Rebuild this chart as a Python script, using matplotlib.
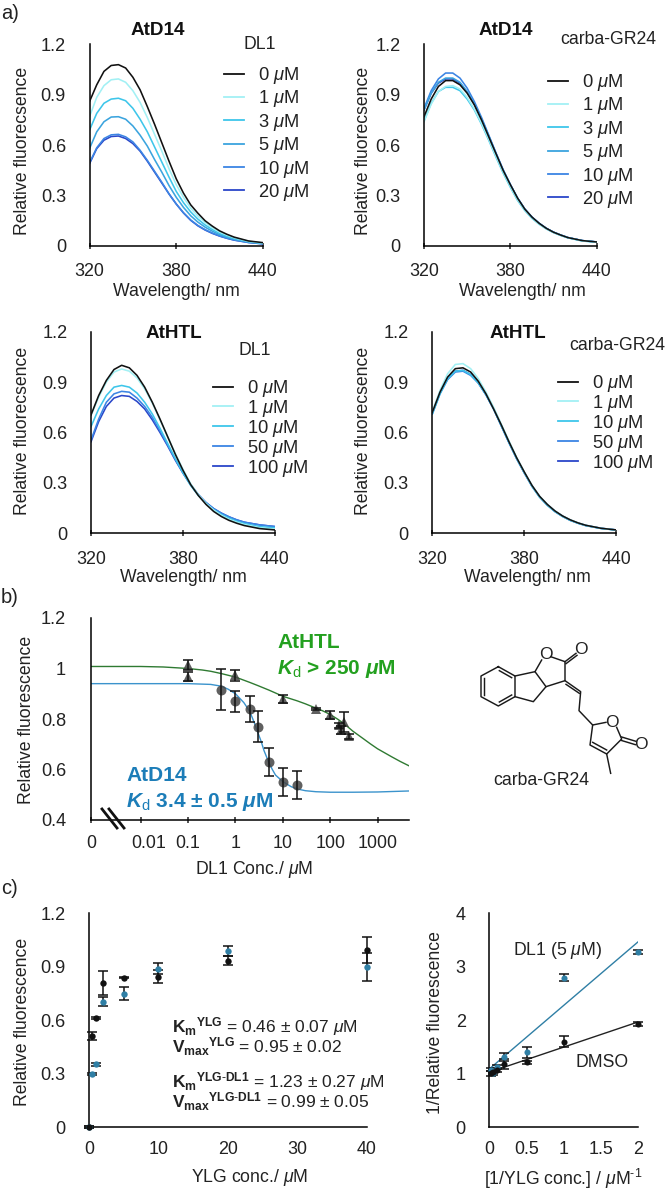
import matplotlib
matplotlib.use("Agg")
import matplotlib.pyplot as plt
from matplotlib.transforms import ScaledTranslation

plt.rcParams['font.family'] = ['Liberation Sans', 'DejaVu Sans']
plt.rcParams['mathtext.fontset'] = 'custom'
plt.rcParams['mathtext.rm'] = 'Liberation Sans'
plt.rcParams['mathtext.it'] = 'Liberation Sans:italic'
plt.rcParams['mathtext.bf'] = 'Liberation Sans:bold'
plt.rcParams['mathtext.bfit'] = 'Liberation Sans:italic:bold'

W, H = 666, 1195
FS = 12.7
MU = r"$\mu$M"

# spectra
wl = [320, 325, 330, 335, 340, 345, 350, 355, 360, 365, 370, 375, 380, 385, 390, 395, 400, 405, 410, 415, 420, 430, 440]

d14_dl1 = {
    "0": [.86, .96, 1.04, 1.075, 1.08, 1.06, 1.005, .93, .83, .725, .615, .505, .40, .315, .245, .195, .15, .118, .09, .07, .053, .03, .02],
    "1": [.77, .885, .955, .99, .995, .975, .925, .855, .765, .665, .565, .46, .365, .29, .225, .178, .14, .108, .083, .065, .05, .028, .018],
    "3": [.69, .79, .85, .875, .88, .865, .82, .755, .68, .59, .50, .41, .325, .258, .203, .16, .125, .098, .075, .058, .045, .026, .016],
    "5": [.58, .68, .74, .768, .77, .755, .715, .66, .595, .515, .44, .36, .29, .23, .18, .142, .112, .088, .068, .053, .041, .024, .015],
    "10": [.495, .585, .64, .662, .665, .65, .62, .57, .51, .445, .38, .31, .25, .198, .155, .122, .097, .077, .06, .047, .036, .021, .013],
    "20": [.49, .58, .63, .652, .655, .64, .61, .565, .505, .44, .375, .31, .25, .197, .153, .12, .095, .075, .059, .046, .035, .021, .013],
}
d14_gr24 = {
    "0": [.77, .875, .95, .985, .985, .96, .91, .84, .75, .65, .55, .45, .365, .285, .22, .172, .135, .105, .082, .065, .05, .032, .024],
    "1": [.74, .845, .92, .95, .955, .935, .885, .815, .73, .635, .535, .44, .355, .275, .215, .167, .13, .102, .08, .063, .049, .03, .023],
    "3": [.745, .85, .92, .945, .945, .925, .875, .81, .725, .63, .53, .435, .35, .272, .212, .165, .13, .102, .08, .063, .049, .03, .023],
    "5": [.81, .91, .975, 1.0, 1.0, .975, .92, .845, .755, .655, .55, .45, .365, .285, .22, .172, .135, .105, .082, .065, .05, .032, .024],
    "10": [.82, .925, .995, 1.03, 1.03, 1.0, .94, .86, .765, .66, .555, .455, .365, .285, .22, .172, .135, .105, .082, .065, .05, .032, .024],
    "20": [.81, .91, .97, .995, .995, .97, .915, .845, .755, .655, .55, .45, .365, .285, .22, .172, .135, .105, .082, .065, .05, .032, .024],
}
htl_dl1 = {
    "0": [.705, .82, .91, .975, 1.0, .985, .94, .87, .78, .68, .575, .47, .375, .29, .225, .172, .13, .10, .077, .06, .046, .028, .02],
    "1": [.70, .81, .90, .96, .978, .965, .925, .86, .775, .675, .575, .475, .38, .295, .23, .178, .138, .107, .083, .066, .052, .033, .025],
    "10": [.635, .74, .82, .87, .88, .87, .835, .78, .71, .625, .535, .445, .36, .285, .225, .178, .14, .112, .09, .072, .058, .04, .032],
    "50": [.555, .68, .78, .83, .845, .84, .805, .755, .69, .61, .525, .44, .36, .29, .23, .183, .147, .12, .098, .08, .066, .05, .04],
    "100": [.545, .665, .755, .805, .82, .815, .785, .74, .675, .60, .52, .435, .358, .288, .23, .183, .147, .12, .098, .08, .066, .05, .04],
}
htl_gr24 = {
    "0": [.72, .84, .93, .98, .985, .96, .905, .83, .74, .645, .545, .45, .365, .285, .22, .172, .133, .103, .08, .062, .048, .03, .02],
    "1": [.725, .85, .95, 1.005, 1.01, .98, .92, .84, .75, .65, .55, .452, .365, .285, .22, .172, .133, .103, .08, .062, .048, .03, .02],
    "10": [.71, .83, .92, .965, .97, .945, .895, .825, .74, .64, .54, .445, .36, .28, .215, .167, .129, .1, .077, .06, .046, .029, .019],
    "50": [.71, .83, .915, .96, .965, .94, .895, .825, .74, .64, .54, .445, .36, .28, .215, .167, .129, .1, .077, .06, .046, .029, .02],
    "100": [.715, .835, .92, .965, .97, .945, .895, .825, .74, .64, .54, .445, .36, .282, .218, .17, .131, .102, .078, .061, .047, .03, .02],
}
dose_colors = {"0": "#111111", "1": "#A2F0F4", "3": "#3EC6EA", "5": "#3BA4DE", "10": "#3C85E4", "20": "#2B47C9"}
dose_colors_htl = {"0": "#111111", "1": "#A2F0F4", "10": "#3EC6EA", "50": "#3C85E4", "100": "#2B47C9"}

# panel b
d14_x = [.5, 1, 2, 3, 5, 10, 20]
d14_y = [.916, .87, .84, .77, .63, .552, .539]
d14_err = [.082, .041, .053, .06, .055, .055, .056]
htl_x = [.1, .1, 1, 10, 50, 100, 150, 170, 200, 250]
htl_y = [1.014, .968, .974, .879, .84, .816, .776, .756, .789, .732]
htl_err = [.02, .018, .022, .015, .004, .015, .01, .015, .04, .01]
fit_x = [.00089, .1, .3, .5, .7, 1, 1.5, 2, 2.5, 3, 3.5, 4, 5, 6, 7, 10, 15, 20, 30, 50, 100, 300, 1000, 4677]
fit_d14 = [.94, .94, .937, .93, .918, .90, .865, .83, .785, .744, .71, .675, .63, .60, .578, .552, .532, .523, .516, .512, .51, .51, .511, .515]
fit_htl_x = [.00089, .01, .03, .1, .2, .3, .5, 1, 2, 3, 5, 7, 10, 20, 30, 50, 70, 100, 150, 200, 300, 500, 700, 1000, 2000, 3000, 4677]
fit_htl = [1.008, 1.008, 1.006, 1.0, .994, .989, .98, .966, .945, .932, .915, .903, .89, .872, .86, .843, .832, .818, .797, .78, .752, .722, .702, .682, .65, .632, .614]

# panel c
yl_x = [0, .5, 1, 2, 5, 10, 20, 40]
dmso_y = [0, .512, .615, .81, .84, .845, .933, .995]
dmso_err = [.005, .02, .005, .068, .005, .035, .025, .072]
dl1_y = [0, .30, .353, .705, .75, .89, .99, .90]
dl1_err = [.005, .004, .008, .025, .035, .03, .028, .08]
lb_x = [.025, .05, .1, .2, .5, 1, 2]
lb_dmso = [1.01, 1.04, 1.07, 1.18, 1.215, 1.60, 1.925]
lb_dmso_err = [.05, .03, .04, .09, .03, .1, .04]
lb_dl1 = [1.08, 1.01, 1.13, 1.31, 1.40, 2.80, 3.28]
lb_dl1_err = [.03, .03, .04, .07, .1, .07, .04]
lb_line_x = [0, 2]
lb_line_dmso = [1.03, 1.97]
lb_line_dl1 = [1.09, 3.47]

# carba-GR24 drawing, picture coordinates of the zoomed structure
bonds = [
    [(175, 80), (225, 108), (225, 170), (175, 198), (123, 170), (123, 108), (175, 80)],
    [(133, 115), (133, 165)], [(178, 92), (215, 113)], [(178, 186), (215, 165)],
    [(225, 108), (285, 95), (318, 140), (280, 185), (225, 170)],
    [(285, 95), (305, 60)], [(332, 50), (375, 65), (375, 122), (318, 140)],
    [(375, 65), (408, 40)], [(378, 71), (411, 46)],
    [(375, 122), (422, 155), (417, 212), (458, 255), (498, 247)],
    [(378, 133), (418, 160)],
    [(530, 262), (545, 297), (500, 342), (450, 315), (458, 255)],
    [(500, 330), (458, 307)],
    [(545, 291), (588, 304)], [(543, 301), (586, 314)], [(500, 342), (512, 400)],
]
atoms = [(318, 42), (423, 28), (515, 247), (602, 312)]

fig = plt.figure(figsize=(W / 100, H / 100), dpi=100)


def make_ax(left, right, top, bottom):
    ax = fig.add_axes([left / W, 1 - bottom / H, (right - left) / W, (bottom - top) / H])
    ax.spines[['top', 'right']].set_visible(False)
    ax.spines[['left', 'bottom']].set_linewidth(1.1)
    ax.patch.set_alpha(0)
    ax.tick_params(labelsize=FS + .4, length=0, axis='y', pad=17, colors='#222222')
    ax.tick_params(labelsize=FS + .2, axis='x', direction='inout', length=5, width=1.1, colors='#222222')
    return ax


def place_labels(ax, box, xl, yl, xlabel, ylabel):
    left, right, top, bottom = box
    ax.set_xlabel(xlabel, fontsize=FS, va='center', color='#222222')
    ax.set_ylabel(ylabel, fontsize=FS, va='center', color='#222222')
    ax.xaxis.set_label_coords((xl[0] - left) / (right - left), (bottom - xl[1]) / (bottom - top))
    ax.yaxis.set_label_coords((yl[0] - left) / (right - left), (bottom - yl[1]) / (bottom - top))


def spectra(box, series, colors, xl, yl, pad, leg_xy, spacing):
    ax = make_ax(*box)
    for k, vals in reversed(list(series.items())):
        ax.plot(wl, vals, color=colors[k], lw=1.15, zorder=3 if k == "0" else 2)
    ax.set_xlim(320, 440)
    ax.set_ylim(0, 1.2)
    ax.set_xticks([320, 380, 440])
    ax.set_yticks([0, .3, .6, .9, 1.2], ["0", "0.3", "0.6", "0.9", "1.2"])
    ax.tick_params(axis='x', pad=pad)
    place_labels(ax, box, xl, yl, "Wavelength/ nm", "Relative fluorecsence")
    handles = [plt.Line2D([], [], color=colors[k], lw=1.3) for k in series]
    labels = [f"{k} {MU}" for k in series]
    leg = ax.legend(handles, labels, frameon=False, fontsize=13.2, loc='upper left',
                    bbox_to_anchor=(leg_xy[0] / W, 1 - leg_xy[1] / H), bbox_transform=fig.transFigure,
                    handlelength=1.1, handletextpad=.75, labelspacing=spacing, borderaxespad=0, borderpad=0)
    for t in leg.get_texts():
        t.set_color('#222222')
    return ax


spectra((89.5, 263, 44.5, 246), d14_dl1, dose_colors, (176, 292), (22.5, 151), 10, (224, 65), .13)
spectra((424, 596.7, 44.5, 246), d14_gr24, dose_colors, (522, 292), (364, 151), 10, (548, 72), .13)
spectra((91, 275, 331.7, 533.3), htl_dl1, dose_colors_htl, (183, 578), (22.5, 431), 10, (213, 378), -.06)
spectra((432.3, 616.3, 331.7, 533.3), htl_gr24, dose_colors_htl, (527, 578), (364, 431), 10, (558, 373), -.06)

# b
box_b = (91, 409.3, 618, 820)
ax = make_ax(*box_b)
ax.set_xscale('log')
ax.set_xlim(.00089, 4677)
ax.set_ylim(.4, 1.2)
ax.plot(fit_x, fit_d14, color='#3B93CC', lw=1.0, zorder=2)
ax.plot(fit_htl_x, fit_htl, color='#2F7A32', lw=1.0, zorder=2)
ax.plot(d14_x, d14_y, 'o', color='#444444', alpha=.85, ms=7.2, mew=0, zorder=3)
ax.plot(htl_x, htl_y, '^', color='#444444', alpha=.85, ms=7.5, mew=0, zorder=3)
ax.errorbar(d14_x, d14_y, yerr=d14_err, fmt='none', ecolor='#111111', elinewidth=1.1, capsize=3.6, capthick=1.1, zorder=4)
ax.errorbar(htl_x, htl_y, yerr=htl_err, fmt='none', ecolor='#111111', elinewidth=1.1, capsize=3.4, capthick=1.1, zorder=4)
ax.set_xticks([.00089, .01, .1, 1, 10, 100, 1000], ["0", "0.01", "0.1", "1", "10", "100", "1000"])
ax.minorticks_off()
ax.set_yticks([.4, .6, .8, 1, 1.2], ["0.4", "0.6", "0.8", "1", "1.2"])
ax.tick_params(axis='y', pad=18)
ax.tick_params(axis='x', pad=8)
ax.get_xticklabels()[1].set_transform(ax.get_xticklabels()[1].get_transform() + ScaledTranslation(8 / 100, 0, fig.dpi_scale_trans))
place_labels(ax, box_b, (254, 869), (26.7, 720), "DL1 Conc./ " + MU, "Relative fluorescence")

# c, saturation
box_c = (89, 366.7, 913.3, 1127.3)
ax = make_ax(*box_c)
ax.errorbar(yl_x, dl1_y, yerr=dl1_err, fmt='none', ecolor='#111111', elinewidth=1.1, capsize=3.6, capthick=1.1, zorder=3, clip_on=False)
ax.plot(yl_x, dl1_y, 'o', color='#2F7FA5', ms=4.6, mew=0, zorder=4, clip_on=False)
ax.errorbar(yl_x, dmso_y, yerr=dmso_err, fmt='none', ecolor='#111111', elinewidth=1.1, capsize=3.6, capthick=1.1, zorder=3, clip_on=False)
ax.plot(yl_x, dmso_y, 'o', color='#111111', ms=4.6, mew=0, zorder=5, clip_on=False)
ax.set_xlim(0, 40)
ax.set_ylim(0, 1.2)
ax.set_xticks([0, 10, 20, 30, 40])
ax.set_yticks([0, .3, .6, .9, 1.2], ["0", "0.3", "0.6", "0.9", "1.2"])
ax.tick_params(axis='x', length=0, pad=10)
place_labels(ax, box_c, (250, 1177), (22.5, 1022), "YLG conc./ " + MU, "Relative fluorescence")

# c, double reciprocal
box_d = (489.3, 638.3, 913.3, 1127.3)
ax = make_ax(*box_d)
ax.plot(lb_line_x, lb_line_dl1, color='#2F7FA5', lw=1.0, zorder=2)
ax.plot(lb_line_x, lb_line_dmso, color='#222222', lw=1.0, zorder=2)
ax.errorbar(lb_x, lb_dl1, yerr=lb_dl1_err, fmt='none', ecolor='#111111', elinewidth=1.1, capsize=3.6, capthick=1.1, zorder=3, clip_on=False)
ax.plot(lb_x, lb_dl1, 'o', color='#2F7FA5', ms=4.4, mew=0, zorder=4, clip_on=False)
ax.errorbar(lb_x, lb_dmso, yerr=lb_dmso_err, fmt='none', ecolor='#111111', elinewidth=1.1, capsize=3.6, capthick=1.1, zorder=3, clip_on=False)
ax.plot(lb_x, lb_dmso, 'o', color='#111111', ms=4.4, mew=0, zorder=5, clip_on=False)
ax.set_xlim(0, 2)
ax.set_ylim(0, 4)
ax.set_xticks([0, .5, 1, 1.5, 2], ["0", "0.5", "1", "1.5", "2"])
ax.set_yticks([0, 1, 2, 3, 4])
ax.tick_params(axis='x', length=0, pad=10)
place_labels(ax, box_d, (563, 1179), (435.7, 1023), "[1/YLG conc.] / " + MU + r"$^{\text{-}1}$", "1/Relative fluorescence")

# everything placed by pixel goes on a full figure overlay
ov = fig.add_axes([0, 0, 1, 1])
ov.set_xlim(0, W)
ov.set_ylim(H, 0)
ov.axis('off')
ov.patch.set_alpha(0)


def txt(x, y, s, ha='left', fs=FS, **kw):
    kw.setdefault('color', '#222222')
    ov.text(x, y, s, ha=ha, va='center', fontsize=fs, **kw)


txt(1, 13, "a)", fs=14.5)
txt(1, 597, "b)", fs=14.5)
txt(1, 888, "c)", fs=14.5)
for x, y, s in [(158, 30, "AtD14"), (506, 30, "AtD14"), (174, 333, "AtHTL"), (518, 333, "AtHTL")]:
    txt(x, y, s, ha='center', fs=13.6, fontweight='bold', color='#111111')
txt(260, 44, "DL1", ha='center')
txt(608, 39, "carba-GR24", ha='center')
txt(255, 350, "DL1", ha='center')
txt(617, 345, "carba-GR24", ha='center')

GREEN, BLUE = '#23A01F', '#1C7DB8'
txt(277, 642.7, "AtHTL", fs=15, fontweight='bold', color=GREEN)
txt(277, 669, r"$\mathbfit{K}$$_{\mathrm{d}}$ > 250 $\mathbfit{\mu}$M", fs=15, fontweight='bold', color=GREEN)
txt(126, 775.7, "AtD14", fs=15, fontweight='bold', color=BLUE)
txt(126, 801.7, r"$\mathbfit{K}$$_{\mathrm{d}}$ 3.4 ± 0.5 $\mathbfit{\mu}$M", fs=15, fontweight='bold', color=BLUE)
ov.plot([102, 117], [809, 828], color='#111111', lw=2)
ov.plot([109, 124], [809, 828], color='#111111', lw=2)

txt(172, 1026.5, r"$\mathbf{K_{m}}{}^{\mathbf{YLG}}$ = 0.46 ± 0.07 " + MU, fs=12.5)
txt(172, 1046.7, r"$\mathbf{V_{max}}{}^{\mathbf{YLG}}$ = 0.95 ± 0.02", fs=12.5)
txt(172, 1082, r"$\mathbf{K_{m}}{}^{\mathbf{YLG\text{-}DL1}}$ = 1.23 ± 0.27 " + MU, fs=12.5)
txt(172, 1102, r"$\mathbf{V_{max}}{}^{\mathbf{YLG\text{-}DL1}}$ = 0.99 ± 0.05", fs=12.5)
txt(558, 950.7, "DL1 (5 " + MU + ")", ha='center')
txt(601.7, 1062.7, "DMSO", ha='center')

for b in bonds:
    ov.plot([440 + p[0] / 3 for p in b], [640 + p[1] / 3 for p in b], color='#1a1a1a', lw=1.05, solid_joinstyle='round')
for a in atoms:
    txt(440 + a[0] / 3, 640 + a[1] / 3, "O", ha='center', fs=12.5)
txt(541, 780, "carba-GR24", ha='center')

fig.savefig("out.png", dpi=100)
